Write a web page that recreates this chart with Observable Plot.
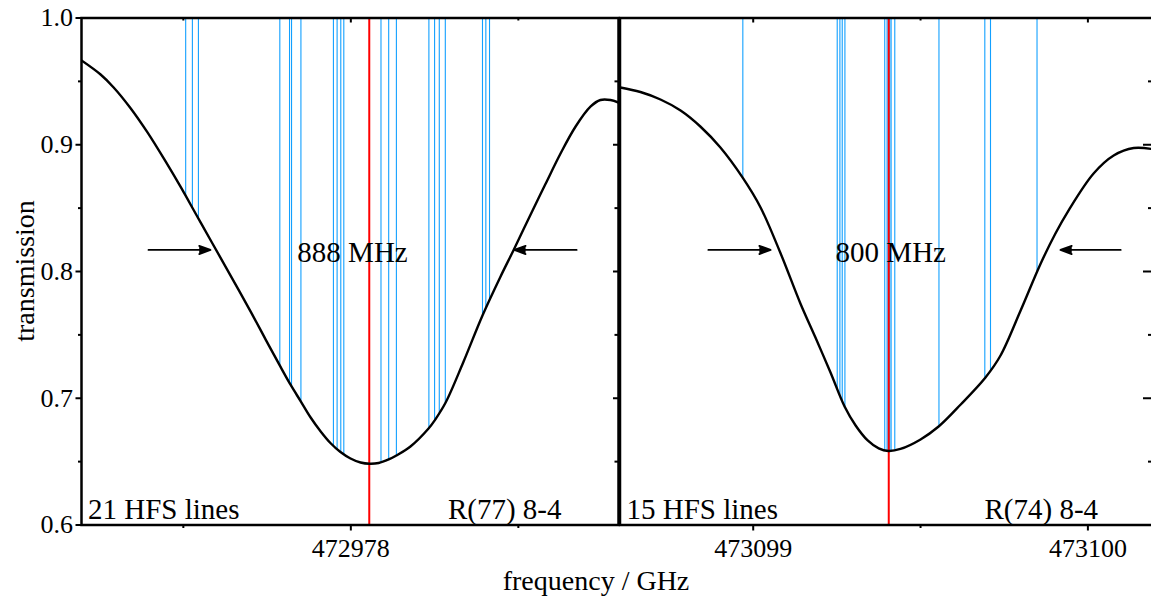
<!DOCTYPE html>
<html><head><meta charset="utf-8">
<script src="https://cdn.jsdelivr.net/npm/d3@7"></script>
<script src="https://cdn.jsdelivr.net/npm/@observablehq/plot@0.6"></script>
<style>
body{margin:0;background:#fff;}
#wrap{position:relative;width:1151px;height:598px;overflow:hidden;background:#fff;font-family:"Liberation Serif","Times New Roman",serif;color:#000;}
#wrap svg{position:absolute;top:0;}
.lab{position:absolute;font-size:28px;line-height:28px;white-space:nowrap;color:#000;font-family:"Liberation Serif",serif;}
#ylab{left:-75.4px;top:257px;width:200px;text-align:center;transform:rotate(-90deg);}
#xlab{left:396px;top:566.6px;width:400px;text-align:center;}
</style></head><body>
<div id="wrap">
  <div class="lab" id="ylab">transmission</div>
  <div class="lab" id="xlab">frequency / GHz</div>
</div>
<script>
// ---------- data ----------
const leftFreq = [472977.196,472977.253,472977.292,472977.342,472977.393,472977.447,472977.492,472977.539,472977.587,472977.641,472977.701,472977.745,472977.787,472977.820,472977.850,472977.880,472977.910,472977.939,472977.969,472977.999,472978.029,472978.056,472978.083,472978.113,472978.136,472978.178,472978.232,472978.250,472978.283,472978.336,472978.393,472978.447,472978.486,472978.536,472978.581,472978.626,472978.671,472978.716,472978.745,472978.775,472978.799];
const leftTrans = [0.9665,0.9554,0.9452,0.9290,0.9097,0.8868,0.8667,0.8446,0.8221,0.7968,0.7684,0.7467,0.7263,0.7107,0.6978,0.6848,0.6738,0.6647,0.6576,0.6525,0.6493,0.6483,0.6489,0.6517,0.6548,0.6619,0.6761,0.6824,0.6966,0.7286,0.7653,0.7961,0.8170,0.8446,0.8690,0.8931,0.9144,0.9302,0.9353,0.9353,0.9333];
const rightFreq = [473098.603,473098.663,473098.723,473098.783,473098.842,473098.902,473098.968,473099.022,473099.082,473099.141,473099.186,473099.231,473099.273,473099.306,473099.342,473099.375,473099.404,473099.440,473099.500,473099.554,473099.620,473099.694,473099.739,473099.799,473099.859,473099.903,473099.942,473100.017,473100.077,473100.137,473100.199];
const rightTrans = [0.9452,0.9416,0.9357,0.9270,0.9144,0.8978,0.8742,0.8505,0.8142,0.7748,0.7479,0.7203,0.6935,0.6785,0.6667,0.6604,0.6584,0.6600,0.6675,0.6777,0.6951,0.7164,0.7337,0.7692,0.8063,0.8300,0.8481,0.8773,0.8915,0.8974,0.8963];
const leftHFS = [472977.507,472977.527,472977.545,472977.788,472977.817,472977.823,472977.851,472977.948,472977.959,472977.970,472977.979,472978.090,472978.113,472978.136,472978.233,472978.250,472978.264,472978.282,472978.393,472978.403,472978.414];
const rightHFS = [473098.969,473099.251,473099.259,473099.266,473099.274,473099.393,473099.400,473099.404,473099.408,473099.412,473099.423,473099.555,473099.692,473099.709,473099.848];
const leftCenter = [472978.055];
const rightCenter = [473099.405];
const leftDomain = [472977.196, 472978.799];
const rightDomain = [473098.602, 473100.199];
const leftMajor = [472978], leftMinor = [472977.5, 472978.5];
const rightMajor = [473099, 473100], rightMinor = [473099.5];
const yMajor = [0.6, 0.7, 0.8, 0.9, 1.0];
const yMinor = [0.65, 0.75, 0.85, 0.95];
const arrowLevel = 0.817;
const leftArrowTail = [472977.396, 472978.674], leftArrowHead = [472977.581, 472978.488];
const rightArrowTail = [473098.866, 473100.098], rightArrowHead = [473099.052, 473099.918];
const leftWidth = ["888 MHz", 472978.005], rightWidth = ["800 MHz", 473099.411];
const leftNotes = ["21 HFS lines", "R(77) 8-4"], rightNotes = ["15 HFS lines", "R(74) 8-4"];

// ---------- drawing ----------
const H = 598, MT = 17.5, MB = 73.5;
const BLUE = "#12a0ff", RED = "#ff0000";

function curveAt(fs, ts, f) {
  let i = d3.bisectRight(fs, f);
  i = Math.max(1, Math.min(fs.length - 1, i));
  const a = fs[i - 1], b = fs[i], t = (f - a) / (b - a);
  return ts[i - 1] + t * (ts[i] - ts[i - 1]);
}

function panel(o) {
  const fw = o.width - o.marginLeft - o.marginRight, fh = H - MT - MB;
  const curve = o.freq.map((f, i) => ({f, t: o.trans[i]}));
  const lines = o.hfs.map(f => ({f, t: curveAt(o.freq, o.trans, f), top: 1.0}));
  const arrows = o.tails.map((a, i) => ({x1: a, x2: o.heads[i], y: arrowLevel}));
  const marks = [
    Plot.ruleX(lines, {x: "f", y1: "top", y2: "t", stroke: BLUE, strokeWidth: 1.1, clip: true}),
    Plot.ruleX(o.center, {stroke: RED, strokeWidth: 2}),
    Plot.line(curve, {x: "f", y: "t", curve: "catmull-rom", stroke: "black", strokeWidth: 2.4, clip: true}),
    Plot.arrow(arrows, {x1: "x1", x2: "x2", y1: "y", y2: "y", stroke: "black", fill: "black", strokeWidth: 1.8, headLength: 10, headAngle: 40}),
    Plot.text([{label: o.widthLabel[0], f: o.widthLabel[1], y: arrowLevel}], {x: "f", y: "y", text: "label", fontSize: 29, lineAnchor: "middle", dy: 3}),
    Plot.text([o.notes[0]], {frameAnchor: "bottom-left", textAnchor: "start", lineAnchor: "bottom", dx: 6.5, dy: -6.5, fontSize: 29}),
    Plot.text([o.notes[1]], {frameAnchor: "bottom-right", textAnchor: "end", lineAnchor: "bottom", dx: o.noteRightDx, dy: -6.5, fontSize: 29}),
    Plot.axisX(o.major, {anchor: "bottom", tickSize: 6, tickPadding: 8, strokeWidth: 2, tickFormat: d3.format("d"), fontSize: 26, label: null}),
    Plot.axisX(o.minor, {anchor: "bottom", tickSize: 3.5, strokeWidth: 2, tickFormat: () => "", label: null}),
    Plot.tickX(o.major, {x: d => d, insetBottom: fh - 5, strokeWidth: 2}),
    Plot.tickX(o.minor, {x: d => d, insetBottom: fh - 3, strokeWidth: 2}),
    Plot.tickY(yMajor, {y: d => d, insetLeft: fw - o.rightTick, strokeWidth: 2}),
    Plot.tickY(yMinor, {y: d => d, insetLeft: fw - o.rightMinorTick, strokeWidth: 2})
  ];
  if (o.leftAxis) {
    marks.push(
      Plot.axisY(yMajor, {anchor: "left", tickSize: 5.5, tickPadding: 3, strokeWidth: 2, tickFormat: ".1f", fontSize: 26, label: null}),
      Plot.axisY(yMinor, {anchor: "left", tickSize: 3, strokeWidth: 2, tickFormat: () => "", label: null})
    );
  }
  marks.push(Plot.frame({stroke: "black", strokeWidth: 2.5}));
  const svg = Plot.plot({
    width: o.width, height: H,
    marginLeft: o.marginLeft, marginRight: o.marginRight, marginTop: MT, marginBottom: MB,
    x: {domain: o.domain, label: null},
    y: {domain: [0.6, 1.0], label: null, axis: o.leftAxis ? undefined : null},
    style: {fontFamily: "'Liberation Serif', serif", fontSize: "26px", background: "transparent", overflow: "visible", color: "black"},
    marks
  });
  svg.style.left = o.left + "px";
  return svg;
}

const wrap = document.getElementById("wrap");
wrap.appendChild(panel({
  left: 0, width: 620, marginLeft: 81, marginRight: 2, domain: leftDomain,
  freq: leftFreq, trans: leftTrans, hfs: leftHFS, center: leftCenter,
  tails: leftArrowTail, heads: leftArrowHead, widthLabel: leftWidth, notes: leftNotes,
  noteRightDx: -57, major: leftMajor, minor: leftMinor, leftAxis: true, rightTick: 5, rightMinorTick: 3.5
}));
wrap.appendChild(panel({
  left: 618, width: 536, marginLeft: 1.5, marginRight: 0, domain: rightDomain,
  freq: rightFreq, trans: rightTrans, hfs: rightHFS, center: rightCenter,
  tails: rightArrowTail, heads: rightArrowHead, widthLabel: rightWidth, notes: rightNotes,
  noteRightDx: -56.4, major: rightMajor, minor: rightMinor, leftAxis: false, rightTick: 11, rightMinorTick: 6
}));
</script>
</body></html>
